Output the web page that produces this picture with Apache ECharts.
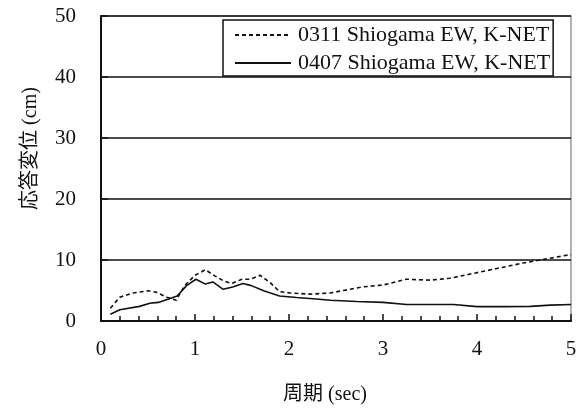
<!DOCTYPE html>
<html>
<head>
<meta charset="utf-8">
<script src="https://cdn.jsdelivr.net/npm/echarts@6/dist/echarts.min.js"></script>
<style>
html,body{margin:0;padding:0;background:#fff;}
#chart{width:582px;height:410px;}
</style>
</head>
<body>
<div id="chart"></div>
<script>
// Data
var xTicks = [0, 1, 2, 3, 4, 5];
var yTicks = [0, 10, 20, 30, 40, 50];
var seriesNames = ['0311 Shiogama EW, K-NET', '0407 Shiogama EW, K-NET'];

var period0311 = [0.10, 0.20, 0.34, 0.50, 0.59, 0.70, 0.80, 0.89, 1.00, 1.11, 1.21, 1.30, 1.39, 1.50, 1.59, 1.69, 1.80, 1.90, 2.01, 2.22, 2.44, 2.65, 2.79, 3.00, 3.25, 3.50, 3.71, 3.96, 4.21, 4.49, 4.71, 5.00];
var disp0311   = [2.1, 3.9, 4.6, 4.95, 4.7, 3.9, 3.4, 5.8, 7.5, 8.4, 7.4, 6.6, 6.15, 6.85, 6.85, 7.5, 6.3, 4.8, 4.6, 4.4, 4.6, 5.2, 5.6, 5.9, 6.85, 6.7, 7.0, 7.8, 8.6, 9.5, 10.1, 10.9];

var period0407 = [0.10, 0.20, 0.41, 0.52, 0.61, 0.72, 0.81, 0.91, 1.01, 1.11, 1.19, 1.30, 1.41, 1.51, 1.60, 1.73, 1.90, 2.08, 2.29, 2.44, 2.72, 3.00, 3.25, 3.50, 3.75, 4.00, 4.28, 4.57, 4.78, 5.00];
var disp0407   = [1.1, 1.85, 2.4, 2.9, 3.05, 3.6, 4.1, 5.8, 6.85, 6.05, 6.4, 5.2, 5.6, 6.15, 5.8, 4.95, 4.1, 3.85, 3.6, 3.4, 3.2, 3.05, 2.7, 2.7, 2.7, 2.35, 2.35, 2.4, 2.6, 2.7];

function pairs(xs, ys) {
  var out = [];
  for (var i = 0; i < xs.length; i++) out.push([xs[i], ys[i]]);
  return out;
}

var serif = '"Liberation Serif", "Times New Roman", "Noto Sans CJK JP", serif';
var chart = echarts.init(document.getElementById('chart'), null, {renderer: 'canvas'});
chart.setOption({
  animation: false,
  backgroundColor: '#fff',
  textStyle: {fontFamily: serif},
  grid: {
    left: 101, right: 11, top: 16, bottom: 88,
    show: true, borderColor: '#999', borderWidth: 1.5, backgroundColor: 'transparent'
  },
  legend: {
    data: seriesNames,
    orient: 'vertical',
    left: 223, top: 20,
    itemWidth: 56, itemHeight: 14, itemGap: 6,
    padding: [4, 3, 2, 11],
    backgroundColor: '#fff',
    borderColor: '#111', borderWidth: 1.5,
    shadowColor: 'rgba(0,0,0,0.35)', shadowBlur: 0, shadowOffsetX: 0, shadowOffsetY: 0,
    itemStyle: {color: 'transparent', borderColor: 'transparent', borderWidth: 0},
    textStyle: {fontFamily: serif, fontSize: 22, color: '#111', padding: [0, 0, 0, 2]}
  },
  xAxis: {
    type: 'value',
    min: xTicks[0], max: xTicks[xTicks.length - 1], interval: 1,
    name: '周期 (sec)',
    nameLocation: 'middle',
    nameGap: 64,
    nameTextStyle: {fontFamily: serif, fontSize: 20, color: '#111', padding: [0, 22, 0, 0]},
    axisLine: {show: true, onZero: false, lineStyle: {color: '#111', width: 2}},
    axisTick: {show: true, inside: true, length: 7, lineStyle: {color: '#111', width: 1.5}},
    minorTick: {show: true, splitNumber: 5, length: 5, lineStyle: {color: '#111', width: 1.5}},
    axisLabel: {fontFamily: serif, fontSize: 21, color: '#111', margin: 18},
    splitLine: {show: false}
  },
  yAxis: {
    type: 'value',
    min: yTicks[0], max: yTicks[yTicks.length - 1], interval: 10,
    name: '応答変位 (cm)',
    nameLocation: 'middle',
    nameGap: 60,
    nameRotate: 90,
    nameTextStyle: {fontFamily: serif, fontSize: 20, color: '#111', padding: [0, 0, 0, 40]},
    axisLine: {show: true, onZero: false, lineStyle: {color: '#111', width: 2}},
    axisTick: {show: true, inside: true, length: 7, lineStyle: {color: '#111', width: 1.5}},
    axisLabel: {fontFamily: serif, fontSize: 21, color: '#111', margin: 25},
    splitLine: {show: true, lineStyle: {color: '#111', width: 1.5}}
  },
  series: [
    {
      name: seriesNames[0],
      type: 'line',
      data: pairs(period0311, disp0311),
      symbol: 'none',
      lineStyle: {color: '#111', width: 1.6, type: [4, 3]},
      itemStyle: {color: '#111'}
    },
    {
      name: seriesNames[1],
      type: 'line',
      data: pairs(period0407, disp0407),
      symbol: 'none',
      lineStyle: {color: '#111', width: 1.6, type: 'solid'},
      itemStyle: {color: '#111'}
    }
  ]
});
</script>
</body>
</html>
